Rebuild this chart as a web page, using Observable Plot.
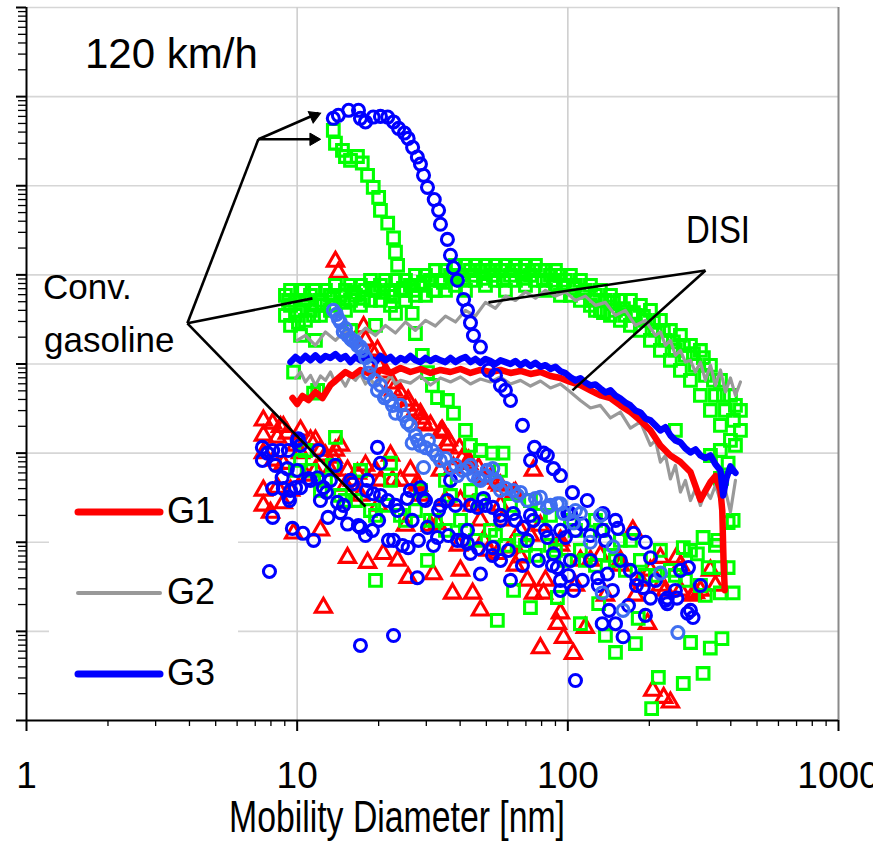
<!DOCTYPE html>
<html>
<head>
<meta charset="utf-8">
<script src="https://cdn.jsdelivr.net/npm/d3@7"></script>
<script src="https://cdn.jsdelivr.net/npm/@observablehq/plot@0.6"></script>
<style>
  body { margin: 0; background: #fff; }
  #chart { position: relative; width: 873px; height: 842px; }
  #chart svg { position: absolute; left: 0; top: 0; }
</style>
</head>
<body>
<div id="chart"></div>
<script>
// Particle number size distributions at 120 km/h, [diameter nm, dN/dlogDp]

// DISI vehicles: thick / thin lines
const g1Disi = [[9.61,4.15e5],[10.0,3.56e5],[10.46,4.38e5],[11.01,3.94e5],[11.68,4.85e5],[12.4,4.15e5],[13.27,5.81e5],[14.21,6.97e5],[15.08,8.13e5],[16.0,7.33e5],[17.13,8.57e5],[18.66,7.73e5],[20.31,8.57e5],[22.12,7.93e5],[24.08,9.02e5],[26.21,8.13e5],[28.54,8.79e5],[31.08,7.93e5],[33.84,8.57e5],[36.85,8.13e5],[40.12,8.79e5],[43.68,7.93e5],[47.55,8.57e5],[51.78,8.13e5],[56.37,8.57e5],[61.38,7.93e5],[66.83,8.35e5],[72.76,7.73e5],[79.22,8.13e5],[86.26,7.33e5],[93.9,6.97e5],[102.2,6.28e5],[111.3,5.81e5],[121.2,5.06e5],[131.9,4.44e5],[143.7,4.15e5],[156.4,3.43e5],[170.3,2.89e5],[185.4,2.33e5],[201.9,1.8e5],[219.8,1.22e5],[239.3,9.42e4],[260.6,7.94e4],[283.8,6.14e4],[308.9,3.0e4],[336.4,4.74e4],[351,5.53e4],[366.3,3.81e4],[372,2.27e4],[376,6.25e3],[380,2.9e3]];

const g2DisiLow = [[9.86,6.9e5],[10.29,8.13e5],[10.73,6.28e5],[11.2,7.45e5],[11.68,5.75e5],[12.19,7.33e5],[12.72,6.55e5],[13.27,8.13e5],[13.85,6.1e5],[14.45,6.97e5],[15.08,5.66e5],[15.74,7.33e5],[16.42,6.55e5],[17.13,7.73e5],[17.88,5.97e5],[18.66,6.79e5],[19.47,5.66e5],[20.31,7.15e5],[21.2,6.28e5],[22.12,7.45e5],[23.08,5.97e5],[24.08,6.55e5],[26.21,6.1e5],[28.54,7.33e5],[31.08,5.81e5],[33.84,6.97e5],[36.85,6.28e5],[40.12,7.15e5],[43.68,5.97e5],[47.55,6.79e5],[51.78,6.28e5],[56.37,7.15e5],[61.38,5.97e5],[66.83,6.55e5],[72.76,5.66e5],[79.22,6.44e5],[86.26,5.38e5],[93.9,5.97e5],[102.2,4.85e5],[111.3,3.9e5],[121.2,3.21e5],[131.9,3.43e5],[143.7,2.48e5],[156.4,2.89e5],[170.3,1.91e5],[185.4,2.24e5],[201.9,1.22e5],[210.7,1.39e5],[219.8,7.93e4],[229.4,9.42e4],[239.3,5.13e4],[249.7,7.28e4],[260.6,3.66e4],[271.9,4.94e4],[283.8,2.94e4],[296.1,3.97e4],[308.9,2.59e4],[322.4,3.81e4],[336.4,3.1e4],[351,4.34e4],[366.3,2.94e4],[382.2,3.81e4],[398.8,2.18e4],[416.1,4.94e4]];

const g2DisiHigh = [[10.0,1.84e6],[10.73,2.09e6],[11.68,1.62e6],[12.72,2.29e6],[13.85,1.84e6],[15.08,2.38e6],[16.42,1.96e6],[17.88,2.53e6],[19.47,2.09e6],[21.2,2.71e6],[23.08,2.23e6],[25.13,2.96e6],[27.35,2.38e6],[29.79,3.09e6],[32.43,2.67e6],[35.31,3.45e6],[38.45,2.96e6],[41.86,4.0e6],[45.58,3.45e6],[49.62,4.91e6],[54.03,4.21e6],[58.82,5.78e6],[64.04,5.17e6],[69.73,6.44e6],[75.92,5.47e6],[82.67,6.7e6],[90.0,5.78e6],[98.0,6.44e6],[106.7,5.17e6],[116.1,5.78e6],[126.5,4.55e6],[137.7,4.91e6],[149.9,3.51e6],[163.2,4.0e6],[177.7,2.71e6],[193.5,3.09e6],[210.7,2.09e6],[219.8,2.29e6],[229.4,1.62e6],[239.3,1.84e6],[249.7,1.25e6],[260.6,1.42e6],[271.9,1.05e6],[283.8,1.1e6],[296.1,8.13e5],[308.9,1.05e6],[322.4,6.55e5],[336.4,9.75e5],[351,5.75e5],[366.3,8.57e5],[382.2,4.85e5],[398.8,6.97e5],[416.1,4.44e5],[434.2,6.28e5]];

const g3Disi = [[9.45,1.05e6],[9.86,1.2e6],[10.29,1.08e6],[10.73,1.23e6],[11.2,1.1e6],[11.68,1.25e6],[12.19,1.1e6],[12.72,1.23e6],[13.27,1.17e6],[13.85,1.29e6],[14.45,1.14e6],[15.08,1.23e6],[15.74,1.05e6],[16.42,1.2e6],[17.13,1.1e6],[17.88,1.25e6],[18.66,1.17e6],[19.47,1.05e6],[20.31,1.23e6],[21.2,1.1e6],[22.12,1.2e6],[23.08,1.05e6],[24.08,1.17e6],[25.13,1.1e6],[26.21,1.23e6],[27.35,1.1e6],[28.54,1.05e6],[29.79,1.17e6],[31.08,1.08e6],[32.43,1.17e6],[33.84,1.1e6],[35.31,1.05e6],[36.85,1.17e6],[38.45,1.05e6],[40.12,1.14e6],[41.86,1.2e6],[43.68,1.05e6],[45.58,1.14e6],[47.55,1.03e6],[49.62,1.14e6],[51.78,1.08e6],[54.03,1.0e6],[56.37,1.1e6],[58.82,1.05e6],[61.38,1.0e6],[64.04,1.08e6],[66.83,9.7e5],[69.73,1.05e6],[72.76,9.5e5],[75.92,1.03e6],[79.22,9.3e5],[82.67,9.7e5],[86.26,8.8e5],[90.0,9.3e5],[93.9,8.3e5],[98.0,7.9e5],[102.2,7.1e5],[106.7,6.55e5],[111.3,6.9e5],[116.1,6.2e5],[121.2,5.75e5],[126.5,5.9e5],[131.9,5.3e5],[137.7,4.8e5],[143.7,5.06e5],[149.9,4.44e5],[156.4,4.1e5],[163.2,3.7e5],[170.3,3.43e5],[177.7,3.01e5],[185.4,2.86e5],[193.5,2.45e5],[201.9,2.33e5],[210.7,2.05e5],[219.8,1.8e5],[229.4,1.95e5],[239.3,1.58e5],[249.7,1.39e5],[260.6,1.32e5],[271.9,1.13e5],[283.8,1.02e5],[296.1,1.1e5],[308.9,9.42e4],[322.4,8.8e4],[336.4,9.42e4],[351,7.5e4],[366.3,6.39e4],[375,3.35e4],[385,5.2e4],[398.8,7.1e4],[416.1,6.0e4]];

// Conventional gasoline vehicles and DISI scans: markers
const g1Conv = [[13.85,1.41e7],[14.2,1.06e7],[17.6,2.6e6],[19.8,1.42e6],[20.0,9.64e5],[22.7,5.06e5],[25.5,3.43e5],[28.54,2.75e5],[29.3,2.15e5],[34.3,1.8e5],[35.9,1.22e5],[40.7,8.6e4],[43.0,7.6e4],[48.8,5.4e4],[54.9,4.6e4],[63,3.5e4],[74.6,6.39e4],
  [17.88,1.84e6],[18.97,1.35e6],[20.31,9.64e5],[21.2,8.05e5],[22.5,6.06e5],[24.08,4.68e5],[25.7,3.9e5],[27.35,3.01e5],[28.9,2.45e5],[31.08,2.05e5],[33.84,1.71e5],[36.2,1.39e5],[39.8,1.13e5],[43.0,8.28e4],[46.8,6.8e4],[51.78,5.2e4],[56.37,4.34e4],[64.04,3.6e4],
  [7.5,2.33e5],[8.12,2.15e5],[8.68,1.97e5],[7.5,1.58e5],[8.45,1.5e5],[9.2,1.66e5],[7.5,1.0e5],[8.19,8.28e4],[8.89,7.6e4],[7.5,3.81e4],[8.45,4.1e4],[9.45,3.81e4],[7.5,2.59e4],[7.97,2.15e4],[8.89,2.75e4],[9.7,1.26e4],[8.89,1.97e5],[10.29,1.0e5],[12.19,1.36e4],[13.6,8.9e4],[13.27,6.39e4],[13.85,1.07e5],[15.35,6.39e4],[15.35,6.7e3],[16.7,5.9e4],[18.2,5.9e3],[12.5,1.85e3],[20.31,4.94e4],[20.8,7.4e3],[23.5,6.25e3],[26.21,6.39e4],[25.7,4.0e3],[27.8,4.6e4],[31.8,4.4e3],[33.0,1.6e4],[34.6,1.7e5],[37.8,6.9e4],[37.5,2.66e3],[40.1,4.83e3],[44.5,2.66e3],[47.55,1.72e3],[48.8,1.05e4],[54.9,7.4e3],[61.4,8.8e3],[66.8,6.8e3],[70.9,3.73e3],[74.6,2.66e3],[81.3,2.66e3],[79.2,6.5e2],[91.5,1.22e3],[93.9,1.6e3],[96.4,8.5e2],[104.8,5.6e2],[116,1.1e3],[173.8,1.36e4],[197,1.22e3],[219.8,6.7e3],[252,6.7e3],[289,2.53e3],[206,2.17e2],[226,1.8e2],[239.3,1.6e2],
  [10.29,1.8e5],[11.2,1.39e5],[12.19,1.07e5],[11.68,6.39e4],[15.08,4.34e4],[17.13,3.35e4],[19.47,6.39e4],[22.12,9.42e4],[24.08,4.94e4],[28.54,3.35e4],[33.84,6.39e4],[40.12,2.94e4],[47.55,1.76e4],[56.37,2.59e4],[66.83,1.36e4],[79.2,1.54e4],[93.9,1.05e4],[111.3,6.25e3],[131.9,7.1e3],[156.4,6.25e3],[185.4,3.73e3],[219.8,3.27e3],[260.6,2.88e3],[308.9,2.88e3],[351,3.27e3],
  [9.86,1.22e5],[10.73,5.62e4],[11.68,1.39e5],[12.72,9.42e4],[14.45,1.22e5],[16.0,4.94e4],[17.88,7.28e4],[19.97,2.59e4],[22.5,4.94e4],[25.13,1.54e4],[28.06,4.34e4],[31.08,1.54e4],[35.31,2.94e4],[39.43,9.21e3],[44.41,2.59e4],[50.9,8.09e3],[57.33,1.76e4],[64.04,5.49e3],[72.76,1.19e4],[82.67,3.73e3],[93.9,9.21e3],[106.7,3.27e3],[121.2,6.25e3],[137.7,2.53e3],[156.4,5.49e3],[177.7,2.53e3],[201.9,4.83e3],[229.4,2.88e3],[260.6,5.49e3],[296.1,2.7e3],[336.4,4.83e3]];

const greenPeak = [[13.6,4.19e8],[13.85,3.0e8],[14.7,2.5e8],[15.08,2.13e8],[15.74,1.93e8],[16.7,2.13e8],[17.4,1.8e8],[18.2,1.31e8],[19.1,9.6e7],[20.0,7.4e7],[20.31,5.3e7],[21.6,3.8e7],[22.7,2.6e7],[23.08,1.8e7],[23.5,1.28e7],[25.13,6.7e6],[26.6,3.7e6],[27.35,2.2e6],[29.0,1.25e6],[30.3,8.0e5],[31.6,5.75e5],[33.0,4.2e5],[35.9,3.9e5],[37.8,2.8e5],[41.86,1.8e5],[43.68,1.22e5],[47.55,1.07e5],[52.8,1.0e5],[57.6,1.0e5]];

const greenBand = [[9.05,5.89e6],[9.05,3.51e6],[9.45,6.7e6],[9.45,4.55e6],[9.45,2.71e6],[9.86,5.17e6],[9.86,3.51e6],[10.29,6.7e6],[10.29,4.0e6],[10.73,5.17e6],[10.73,3.09e6],[11.2,5.89e6],[11.2,4.0e6],[11.68,6.7e6],[11.68,4.55e6],[12.19,5.17e6],[12.19,3.51e6],[12.72,6.7e6],[13.27,5.89e6],[13.27,4.0e6],[13.85,7.62e6],[13.85,4.55e6],[14.45,5.89e6],[15.08,6.7e6],[15.08,4.0e6],[15.74,7.62e6],[15.74,5.17e6],[16.42,5.89e6],[17.13,7.62e6],[17.13,4.55e6],[17.88,6.7e6],[18.66,8.68e6],[18.66,5.17e6],[19.47,6.7e6],[20.31,7.62e6],[20.31,5.17e6],[21.2,8.68e6],[22.12,6.7e6],[22.12,4.55e6],[23.08,8.68e6],[24.08,6.7e6],[25.13,8.68e6],[25.13,5.17e6],[26.21,7.62e6],[27.35,9.87e6],[27.35,5.89e6],[28.54,7.62e6],[29.79,9.87e6],[29.79,5.89e6],[31.08,8.68e6],[32.43,1.12e7],[32.43,6.7e6],[33.84,8.68e6],[35.31,1.12e7],[35.31,6.7e6],[36.85,9.87e6],[38.45,1.28e7],[38.45,7.62e6],[40.12,9.87e6],[41.86,1.28e7],[41.86,6.7e6],[43.68,1.12e7],[45.58,1.28e7],[45.58,8.68e6],[47.55,1.12e7],[49.62,1.28e7],[49.62,7.62e6],[51.78,1.12e7],[54.03,1.28e7],[54.03,8.68e6],[56.37,1.12e7],[58.82,1.28e7],[58.82,6.7e6],[61.38,9.87e6],[64.04,1.28e7],[64.04,8.68e6],[66.83,1.12e7],[69.73,1.28e7],[69.73,7.62e6],[72.76,9.87e6],[75.92,1.28e7],[75.92,8.68e6],[79.22,1.12e7],[82.67,1.12e7],[82.67,6.7e6],[86.26,9.87e6],[90.0,1.12e7],[90.0,7.62e6],[93.9,9.87e6],[93.9,5.89e6],[98.0,8.68e6],[102.2,9.87e6],[102.2,5.89e6],[106.7,7.62e6],[111.3,8.68e6],[111.3,5.17e6],[116.1,6.7e6],[121.2,7.62e6],[121.2,4.55e6],[126.5,5.89e6],[126.5,4.0e6],[131.9,6.7e6],[131.9,4.0e6],[137.7,5.17e6],[143.7,5.89e6],[143.7,3.51e6],[149.9,4.0e6],[156.4,5.17e6],[156.4,3.09e6],[163.2,3.51e6],[170.3,5.17e6],[170.3,2.71e6],[177.7,3.51e6],[185.4,4.55e6],[185.4,2.38e6],[193.5,3.09e6],[201.9,4.0e6],[201.9,1.84e6],[210.7,2.38e6],[219.8,3.09e6],[219.8,1.42e6],[229.4,1.84e6],[239.3,2.38e6],[239.3,1.1e6],[249.7,1.42e6],[260.6,2.09e6],[260.6,8.48e5],[271.9,1.25e6],[283.8,1.62e6],[283.8,6.55e5],[296.1,9.64e5],[308.9,1.42e6],[308.9,4.44e5],[322.4,7.45e5],[336.4,9.64e5],[336.4,3.01e5],[351,4.44e5],[366.3,6.55e5],[366.3,2.05e5],[382.2,3.01e5],[398.8,4.44e5],[398.8,1.39e5],[416.1,3.43e5],[416.1,1.22e5],[434.2,3.01e5],[434.2,1.8e5],
  [9.29,5.17e6],[10.11,2.93e6],[10.55,6.7e6],[11.49,3.51e6],[12.51,4.55e6],[13.62,5.45e6],[14.83,4.91e6],[16.14,6.36e6],[17.58,5.45e6],[19.14,7.06e6],[20.84,6.36e6],[22.69,5.74e6],[24.7,7.06e6],[26.9,6.7e6],[29.29,8.24e6],[31.88,6.7e6],[34.71,8.24e6],[37.79,9.14e6],[41.14,8.68e6],[44.8,9.87e6],[48.77,9.14e6],[53.11,9.87e6],[57.82,8.68e6],[62.95,1.12e7],[68.55,9.14e6],[74.63,1.12e7],[81.26,8.68e6],[88.47,8.68e6],[96.33,7.62e6],[104.9,7.06e6],[114.2,6.36e6],[124.3,5.17e6],[135.4,3.78e6],[147.4,4.91e6],[160.5,4.19e6],[174.7,3.78e6],[190.2,3.41e6],[207.1,2.93e6],[225.5,2.38e6],[245.5,1.77e6],[267.3,1.62e6],[291.1,1.31e6],[316.8,1.18e6],[345.1,6.55e5],[375.6,4.44e5],[409.1,2.33e5],
  [9.7,8.1e5],[11.9,5.06e5],[10.29,2.09e6],[11.68,1.84e6],[15.74,2.38e6],[19.47,2.71e6],[23.08,3.7e6],[249.7,1.8e5],[336.4,9.4e4],[366.3,5.2e4]];

const greenCloud = [[13.85,1.5e5],[11.5,4.7e5],[17.13,6.39e4],[22.12,7.7e4],[19.47,3.73e3],[30.3,6.25e3],[54.9,1.33e3],[63,2.88e3],[72.76,1.85e3],[91.5,2.4e3],[111.3,1.22e3],[130,2.05e3],[150,5.8e2],[177.7,7.3e2],[137.7,9e2],[182,1.4e3],[216,3.04e2],[204,1.36e2],[267,2.6e2],[316,3.37e2],[336,6.5e2],[371,8.3e2],[284,7.5e2],[267,8.7e3],[301,7.4e3],[316,1.13e4],[330,5.2e3],[366,5.2e3],[391,5.2e3],[322,2.53e3],[366,2.7e3],[408,2.7e3],[391,1.66e4],[408,1.76e4],[358,1.05e4],[366,1.07e5],[391,7.7e4],[370,5.2e4],
  [10.29,8.28e4],[11.2,6.39e4],[12.72,4.94e4],[14.45,3.35e4],[16.42,2.94e4],[18.66,2.27e4],[21.2,2.59e4],[24.08,2.0e4],[27.35,2.27e4],[31.08,1.76e4],[35.31,1.36e4],[40.12,1.76e4],[45.58,1.05e4],[51.78,1.36e4],[58.82,9.21e3],[66.83,1.05e4],[75.92,7.11e3],[86.26,9.21e3],[98,6.25e3],[111.3,8.09e3],[126.5,5.49e3],[143.7,7.11e3],[163.2,4.83e3],[185.4,6.25e3],[210.7,4.24e3],[239.3,4.83e3],[271.9,3.73e3],[35.31,4.94e4],[43.68,3.81e4],[56.37,6.39e4],[72.76,2.94e4],[86.26,2.0e4],[106.7,1.36e4],[126.5,1.76e4],[156.4,1.05e4],
  [9.86,6.39e4],[10.73,1.07e5],[12.19,3.81e4],[13.5,7.28e4],[15.08,2.94e4],[17.13,6.39e4],[19.47,2.0e4],[22.12,4.94e4],[25.13,1.76e4],[28.54,3.81e4],[32.43,1.76e4],[36.85,3.35e4],[41.86,1.36e4],[47.55,2.94e4],[54.03,1.19e4],[61.38,2.59e4],[69.73,9.21e3],[79.22,2.0e4],[90.0,8.09e3],[102.2,1.76e4],[116.1,6.25e3],[131.9,1.36e4],[149.9,6.25e3],[170.3,1.05e4],[193.5,4.24e3],[219.8,8.09e3],[249.7,4.24e3],[283.8,8.09e3],[308.9,3.27e3],[351,9.21e3]];

const g3ConvPeak = [[13.6,5.71e8],[14.2,6.17e8],[15.5,7.02e8],[16.85,7.02e8],[17.13,5.71e8],[17.88,5.2e8],[19.1,5.9e8],[20.31,6.0e8],[21.6,5.9e8],[22.7,5.2e8],[23.7,4.4e8],[24.9,3.9e8],[25.7,3.4e8],[26.7,2.7e8],[27.8,2.1e8],[28.54,1.75e8],[29.3,1.31e8],[30.3,9.6e7],[32.1,7.0e7],[33.3,5.3e7],[33.84,3.7e7],[35.9,2.5e7],[36.85,1.66e7],[37.8,1.2e7],[39.1,8.7e6],[41.2,5.3e6],[42.6,4.0e6],[43.68,2.9e6],[44.8,2.09e6],[47.55,1.55e6],[50.9,8.5e5],[54.03,7.45e5],[56.37,5.75e5],[58.8,5.06e5],[61.4,3.9e5],[68.0,2.05e5],[75.3,1.16e5],[81.3,1.0e5],[84.0,9.4e4],[72.8,8.3e4],[88.5,6.7e4],[93.9,5.6e4],[104,3.6e4]];

const g3ConvCloud = [[7.44,1.16e5],[7.77,1.0e5],[7.44,8.28e4],[8.12,1.07e5],[8.68,1.07e5],[9.28,1.07e5],[8.31,7.28e4],[9.2,6.7e4],[10.0,6.39e4],[8.12,4.0e4],[8.89,4.0e4],[9.37,2.94e4],[9.86,4.1e4],[8.12,1.9e4],[9.6,1.43e4],[7.9,4.7e3],[10.0,1.39e5],[10.1,1.45e5],[8.8,5.3e4],[9.45,3.81e4],[10.29,4.1e4],[9.3,3.2e4],[10.5,1.26e4],[11.5,1.05e4],[11.2,4.94e4],[11.9,5.3e4],[12.5,4.1e4],[13.27,4.94e4],[12.19,2.94e4],[13.0,1.9e4],[14.1,2.8e4],[14.45,2.15e4],[15.35,1.6e4],[16.0,4.5e4],[17.13,1.47e4],[17.88,1.19e4],[18.2,4.94e4],[19.8,1.16e5],[19.1,3.5e4],[20.0,1.76e4],[20.31,7.7e4],[21.6,2.94e4],[22.7,1.05e4],[23.5,2.27e4],[25.5,3.1e4],[26.6,1.76e4],[25.7,8.7e3],[28.54,4.1e4],[29.3,3.1e4],[30.3,1.47e4],[33.0,1.13e4],[27.8,4.0e3],[33.3,2.27e4],[35.9,2.94e4],[36.85,4.94e4],[39.1,1.05e4],[42.6,1.36e4],[42.6,9.7e3],[43.68,7.5e3],[47.55,4.4e3],[46.4,2.46e4],[50.4,6.39e4],[48.8,3.1e4],[52.8,2.46e4],[56.4,1.76e4],[52.8,8.7e3],[56.4,6.25e3],[61.4,3.73e3],[62.9,2.1e4],[68.4,1.47e4],[74.6,1.76e4],[70.9,1.05e4],[84.0,1.13e4],[88.5,7.4e3],[91.5,5.2e3],[93.9,3.73e3],[93.9,2.88e3],[102.2,2.1e4],[105,2.88e3],[102.2,6.25e3],[17.13,6.95e2],[22.7,8.99e2],[106.7,2.81e2],[118,2.94e4],[100,2.1e4],[113,1.6e4],[135,2.1e4],[150,1.76e4],[153,1.43e4],[135,1.36e4],[98,1.13e4],[121.2,6.25e3],[129,4.0e3],[140,4.4e3],[175,1.26e4],[193.5,1.0e4],[202,6.7e3],[170,4.83e3],[190,3.1e3],[180,3.9e3],[202,2.36e3],[233,2.36e3],[253,2.36e3],[260.6,4.83e3],[279,5.2e3],[233,2.05e3],[277,1.6e3],[290,1.43e3],[134,1.22e3],[150,1.22e3],[160,8.7e2],[142,1.72e3],
  [10.29,1.22e5],[11.01,5.2e4],[11.98,1.07e5],[12.83,3.62e4],[13.85,7.28e4],[14.83,2.59e4],[15.74,4.94e4],[16.84,1.54e4],[18.03,3.81e4],[18.97,1.36e4],[20.31,3.35e4],[21.74,1.05e4],[23.08,2.59e4],[24.49,9.21e3],[26.21,3.81e4],[28.06,1.05e4],[29.79,2.94e4],[31.88,9.21e3],[33.84,2.59e4],[36.23,1.19e4],[38.45,2.59e4],[40.79,1.05e4],[43.68,2.59e4],[46.75,8.52e3],[49.62,2.59e4],[52.66,7.11e3],[56.37,2.0e4],[60.34,8.09e3],[64.04,1.76e4],[67.97,5.49e3],[72.76,2.0e4],[77.88,6.25e3],[82.67,1.36e4],[87.74,5.49e3],[93.9,1.36e4],[100.5,4.24e3],[106.7,1.36e4],[113.2,3.73e3],[121.2,1.19e4],[129.7,3.27e3],[137.7,1.05e4],[146.2,2.88e3],[156.4,6.25e3],[167.5,1.95e3],[179.2,3.27e3],[193.5,1.51e3],[210.7,3.73e3],[229.4,2.22e3],[249.7,2.88e3],[283.8,1.72e3],[308.9,3.27e3]];

const g3ConvLight = [[13.6,4.0e6],[14.2,3.2e6],[14.8,2.3e6],[15.35,2.09e6],[16.0,1.84e6],[16.7,1.62e6],[17.4,1.42e6],[17.88,1.18e6],[18.35,7.9e5],[19.8,5.06e5],[21.0,4.2e5],[22.5,3.43e5],[23.1,2.8e5],[25.5,2.2e5],[26.6,1.3e5],[27.9,1.39e5],[29.8,1.15e5],[31.6,1.07e5],[33.8,8.28e4],[36.85,6.9e4],[39.1,5.6e4],[42.6,6.7e4],[44.8,5.6e4],[47.55,4.94e4],[50.4,6.4e4],[52.8,6.7e4],[54.9,4.6e4],[56.4,3.81e4],[62.9,3.81e4],[65.1,3.35e4],[70.9,2.94e4],[79.2,3.2e4],[84.0,2.46e4],[91.5,2.7e4],[96.4,2.1e4],[105,1.65e4],[93.9,2.7e4],[111.3,2.1e4],[121,1.0e4],[134,2.7e3],[147,8.9e3],[160,1.72e3],[220,4.5e3],[255,9.7e2],[29.3,6.9e4],
  [13.97,3.6e6],[14.45,2.93e6],[15.08,2.5e6],[15.74,1.93e6],[16.42,1.77e6],[17.13,1.56e6],[18.66,9.64e5],[19.3,6.55e5],[20.31,5.75e5],[21.38,4.44e5],[22.12,3.9e5],[24.08,3.43e5],[24.7,2.65e5],[26.21,2.05e5],[27.35,1.58e5],[28.54,1.22e5],[30.55,1.39e5],[32.7,9.42e4],[35.31,8.72e4],[38.45,7.28e4],[40.79,6.39e4],[43.68,7.28e4],[46.75,5.2e4],[49.62,5.62e4],[54.03,4.94e4],[58.82,4.02e4],[66.83,3.62e4],[75.92,3.1e4],[86.26,2.59e4],[106.7,2.27e4],[131.9,2.0e4]];

// Axis ticks
const xMajor = [1, 10, 100, 1000];
const xMinor = [2,3,4,5,6,7,8,9,20,30,40,50,60,70,80,90,200,300,400,500,600,700,800,900];
const yMajor = [1e2,1e3,1e4,1e5,1e6,1e7,1e8,1e9,1e10];
const yMinor = yMajor.slice(0, -1).flatMap(d => [2,3,4,5,6,7,8,9].map(k => k * d));

// Callout lines (data coordinates)
const calloutLinks = [
  {x1: 3.93, y1: 2.86e6, x2: 7.19, y2: 3.32e8},
  {x1: 3.93, y1: 2.86e6, x2: 11.39, y2: 5.45e6},
  {x1: 3.93, y1: 2.86e6, x2: 17.88, y2: 2.52e4},
  {x1: 50.9, y1: 4.91e6, x2: 322.4, y2: 1.12e7},
  {x1: 322.4, y1: 1.12e7, x2: 104, y2: 5.06e5},
  {x1: 7.19, y1: 3.32e8, x2: 12.0, y2: 6.55e8},
  {x1: 7.19, y1: 3.32e8, x2: 12.0, y2: 3.32e8}
];
// Filled arrowheads at the two upper callout ends (rotation in degrees)
const calloutHeads = [
  {x: 11.54, y: 6.06e8, rotate: 67},
  {x: 11.49, y: 3.32e8, rotate: 90}
];

const legendItems = [
  {label: "G1", color: "#ff0000", width: 7},
  {label: "G2", color: "#999999", width: 4},
  {label: "G3", color: "#0000ff", width: 7}
];

const FONT = "'Liberation Sans', Arial, Helvetica, sans-serif";
const px = d => d[0], py = d => d[1];

const chart = Plot.plot({
  width: 873,
  height: 842,
  marginLeft: 26,
  marginRight: 35,
  marginTop: 7,
  marginBottom: 122,
  x: {type: "log", domain: [1, 1000]},
  y: {type: "log", domain: [1e2, 1e10]},
  style: {fontFamily: FONT, fontSize: "37px", background: "white", color: "black"},
  marks: [
    Plot.ruleY(yMajor.slice(1), {stroke: "#d6d6d6", strokeWidth: 1.6}),
    Plot.ruleX([10, 100], {stroke: "#cfcfcf", strokeWidth: 1.6}),
    Plot.ruleX([1000], {stroke: "#8a8a8a", strokeWidth: 2}),

    Plot.dot(g1Conv, {x: px, y: py, symbol: "triangle", r: 6, stroke: "#ff0000", strokeWidth: 3.1}),
    Plot.dot(greenCloud, {x: px, y: py, symbol: "square", r: 6.6, stroke: "#00ff00", strokeWidth: 3.1}),
    Plot.dot(greenBand, {x: px, y: py, symbol: "square", r: 6.6, stroke: "#00ff00", strokeWidth: 3.1}),
    Plot.dot(greenPeak, {x: px, y: py, symbol: "square", r: 6.6, stroke: "#00ff00", strokeWidth: 3.1}),

    Plot.line(g2DisiHigh, {x: px, y: py, stroke: "#999999", strokeWidth: 3.2}),
    Plot.line(g2DisiLow, {x: px, y: py, stroke: "#999999", strokeWidth: 3.2}),
    Plot.line(g1Disi, {x: px, y: py, stroke: "#ff0000", strokeWidth: 6.5}),
    Plot.line(g3Disi, {x: px, y: py, stroke: "#0000ff", strokeWidth: 6.5}),

    Plot.dot(g3ConvCloud, {x: px, y: py, r: 6, stroke: "#0000ff", strokeWidth: 3.1}),
    Plot.dot(g3ConvLight, {x: px, y: py, r: 6, stroke: "#3f6ff0", strokeWidth: 3.1}),
    Plot.dot(g3ConvPeak, {x: px, y: py, r: 6, stroke: "#0000ff", strokeWidth: 3.1}),

    Plot.axisY({ticks: yMinor, tickSize: 8, tickFormat: () => "", label: null, strokeWidth: 1.3}),
    Plot.axisY({ticks: yMajor, tickSize: 10, tickFormat: () => "", label: null, strokeWidth: 2}),
    Plot.axisX({ticks: xMinor, tickSize: 6, tickFormat: () => "", label: null, strokeWidth: 1.3}),
    Plot.axisX({ticks: xMajor, tickSize: 11, tickPadding: 30, tickFormat: d => String(d), label: null, strokeWidth: 2, fontSize: 37}),
    Plot.ruleX([1], {stroke: "black", strokeWidth: 2}),
    Plot.ruleY([1e2], {stroke: "black", strokeWidth: 2}),

    Plot.link(calloutLinks, {x1: "x1", y1: "y1", x2: "x2", y2: "y2", stroke: "black", strokeWidth: 2.6}),
    Plot.dot(calloutHeads, {x: "x", y: "y", rotate: "rotate", symbol: "triangle", r: 4.6, fill: "black", stroke: "black", strokeWidth: 1})
  ]
});

const host = document.getElementById("chart");
host.appendChild(chart);

// Text labels, legend and axis title
const overlay = d3.select(host).append("svg")
  .attr("width", 873).attr("height", 842)
  .style("font-family", FONT).style("pointer-events", "none");

const legend = overlay.append("g");
legend.append("rect").attr("x", 49).attr("y", 468).attr("width", 189).attr("height", 236).attr("fill", "white");
legendItems.forEach((d, i) => {
  const yc = 512 + i * 81;
  legend.append("line").attr("x1", 78).attr("x2", 160).attr("y1", yc).attr("y2", yc)
    .attr("stroke", d.color).attr("stroke-width", d.width).attr("stroke-linecap", "round");
  legend.append("text").attr("x", 167).attr("y", yc + 11).attr("font-size", 36).text(d.label);
});

overlay.append("text").attr("x", 85).attr("y", 68).attr("font-size", 42).text("120 km/h");
overlay.append("text").attr("x", 43).attr("y", 299).attr("font-size", 35).text("Conv.");
overlay.append("text").attr("x", 44).attr("y", 352).attr("font-size", 35).text("gasoline");
overlay.append("text").attr("x", 686).attr("y", 243).attr("font-size", 38)
  .attr("textLength", 64).attr("lengthAdjust", "spacingAndGlyphs").text("DISI");
overlay.append("text").attr("x", 229).attr("y", 832).attr("font-size", 44)
  .attr("textLength", 336).attr("lengthAdjust", "spacingAndGlyphs").text("Mobility Diameter [nm]");
</script>
</body>
</html>
